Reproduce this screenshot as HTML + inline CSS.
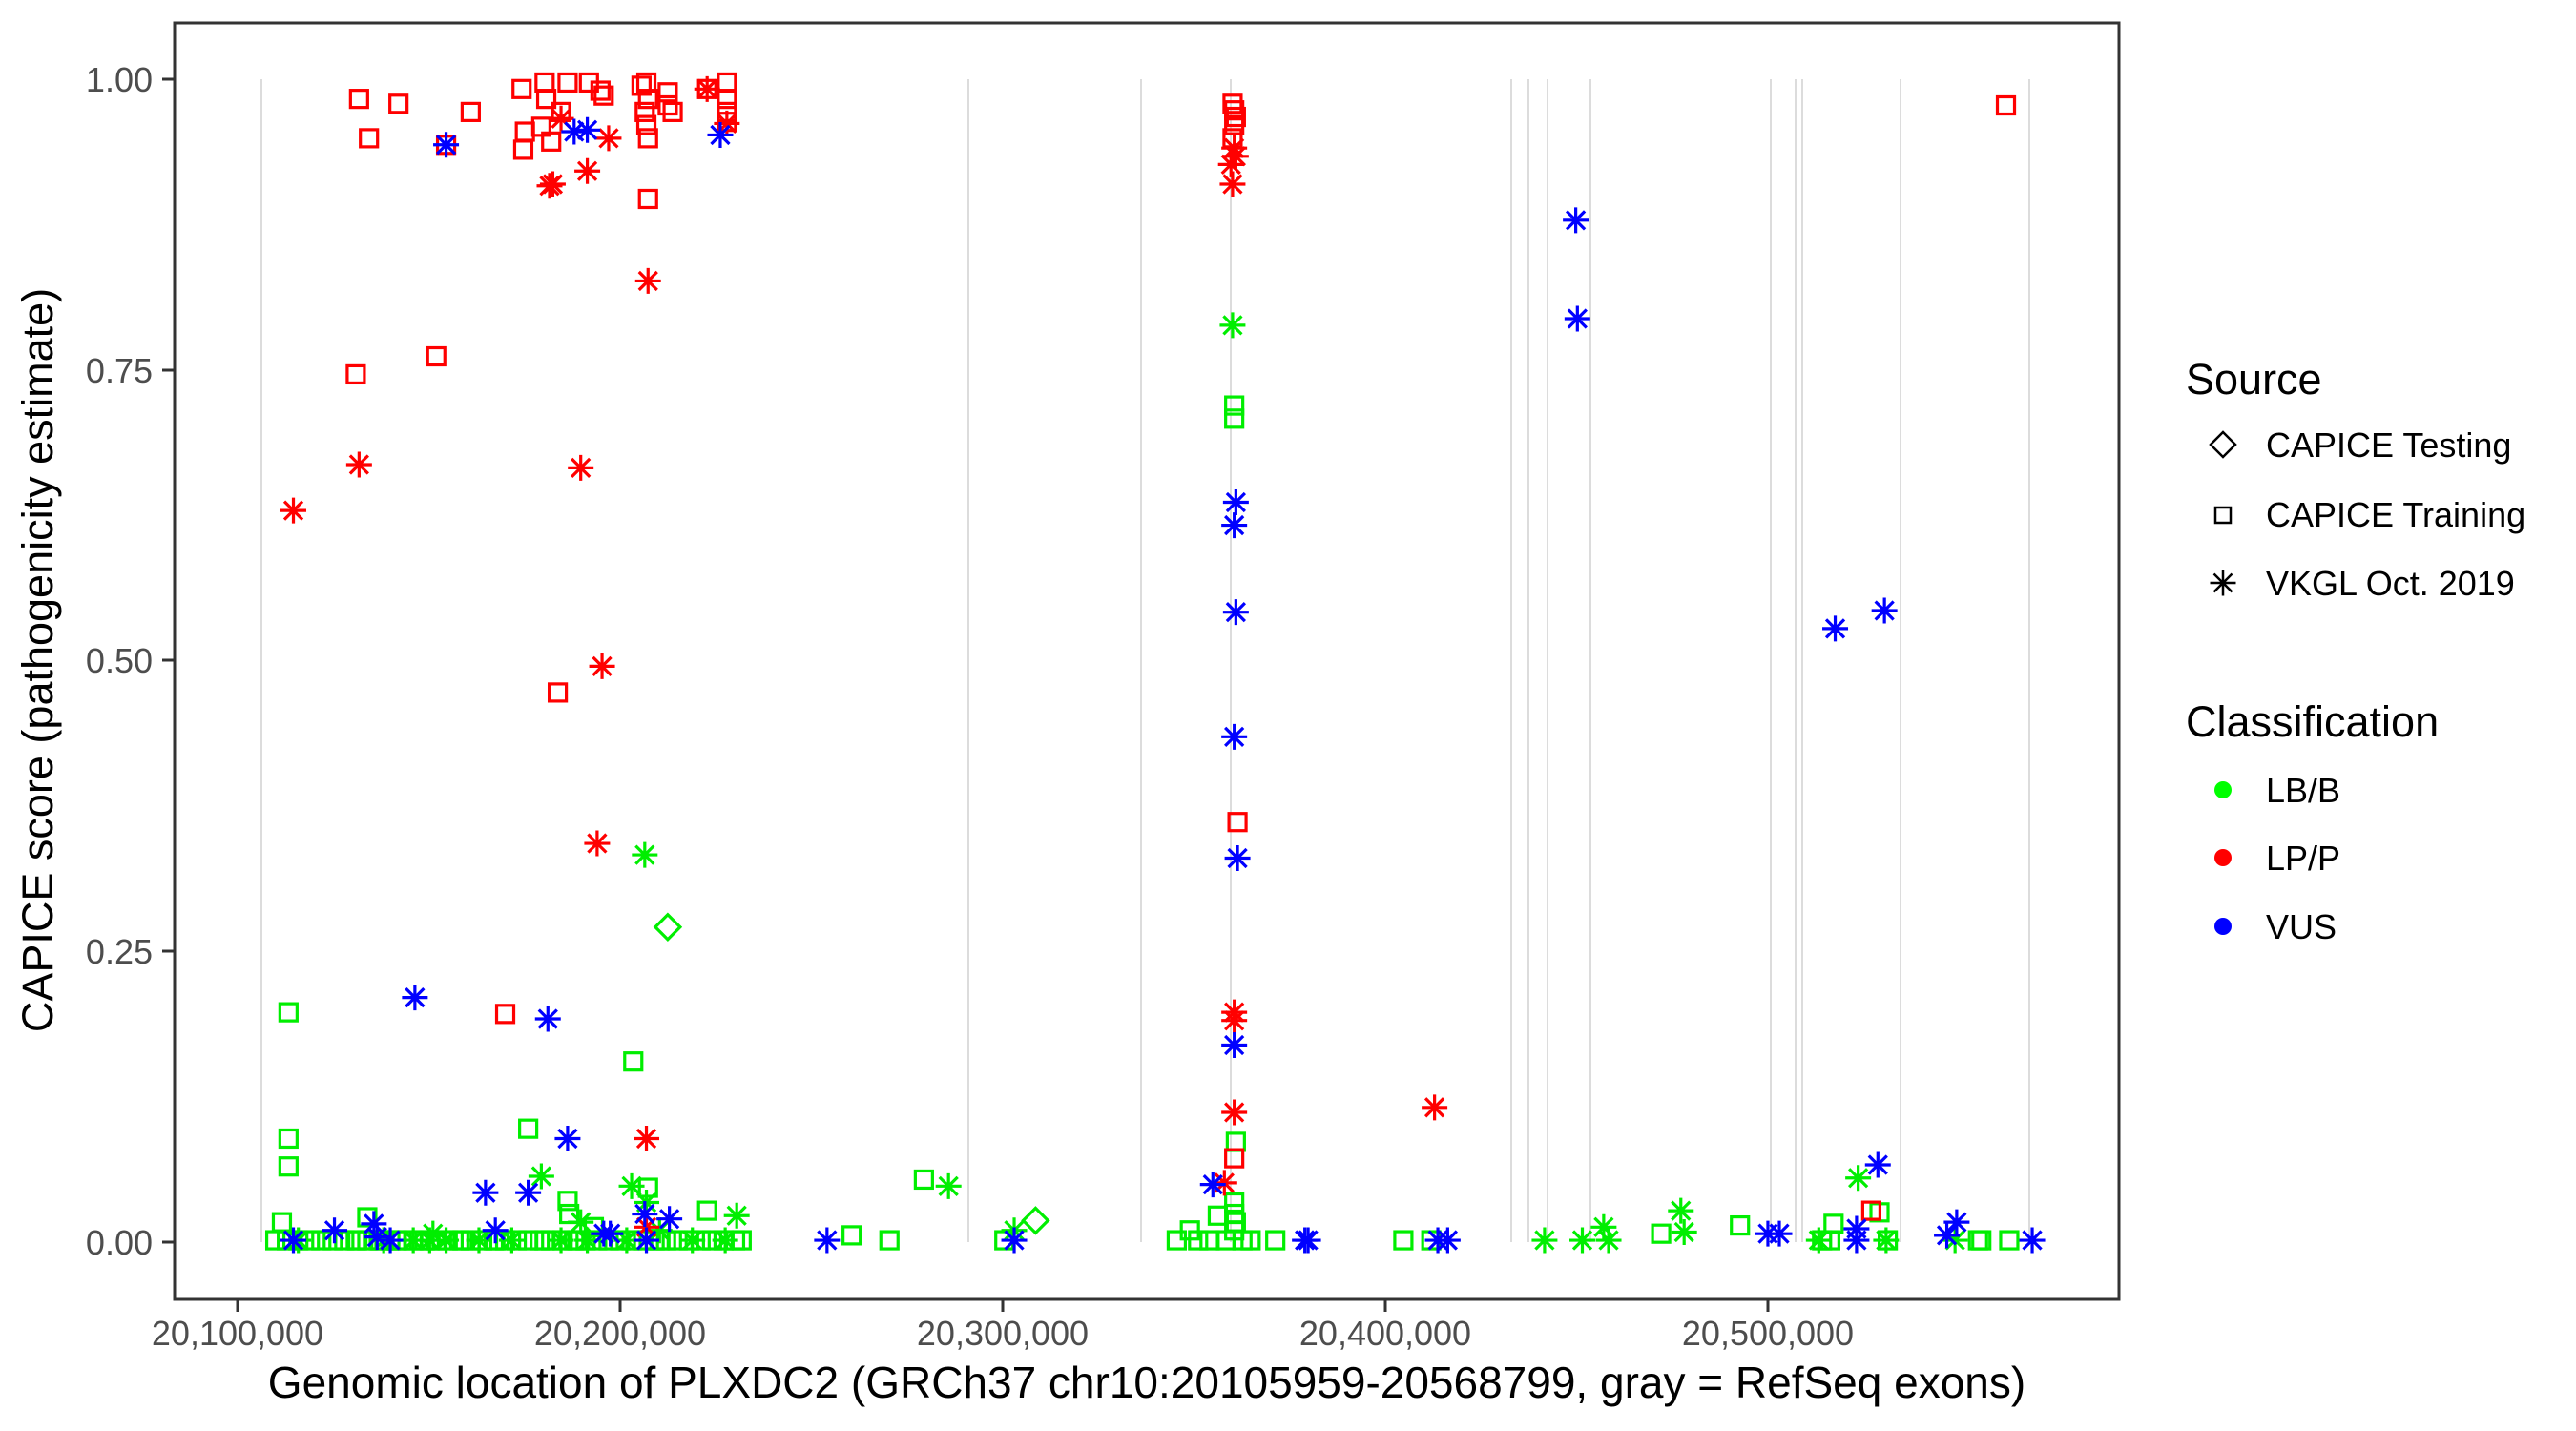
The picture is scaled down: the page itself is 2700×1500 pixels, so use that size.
<!DOCTYPE html>
<html><head><meta charset="utf-8">
<style>
html,body{margin:0;padding:0;background:#fff;}
svg{display:block;font-family:"Liberation Sans",Arial,sans-serif;}
</style></head>
<body>
<svg id="s" width="2700" height="1500" viewBox="0 0 2700 1500" xmlns="http://www.w3.org/2000/svg">
<rect width="2700" height="1500" fill="#fff"/>
<g id="ex" stroke="#d0d0d0" stroke-width="1.5"></g>
<g id="pts" fill="none" stroke-width="3.2"></g>
<rect x="183" y="24" width="2038" height="1338" fill="none" stroke="#333" stroke-width="3"/>
<g stroke="#333" stroke-width="3">
<line x1="170" y1="83" x2="183" y2="83"/><line x1="170" y1="388" x2="183" y2="388"/><line x1="170" y1="692" x2="183" y2="692"/><line x1="170" y1="997" x2="183" y2="997"/><line x1="170" y1="1302" x2="183" y2="1302"/>
<line x1="249" y1="1362" x2="249" y2="1375"/><line x1="650" y1="1362" x2="650" y2="1375"/><line x1="1051" y1="1362" x2="1051" y2="1375"/><line x1="1452" y1="1362" x2="1452" y2="1375"/><line x1="1853" y1="1362" x2="1853" y2="1375"/>
</g>
<g fill="#4d4d4d" font-size="36" text-anchor="end">
<text x="160" y="96">1.00</text><text x="160" y="401">0.75</text><text x="160" y="705">0.50</text><text x="160" y="1010">0.25</text><text x="160" y="1315">0.00</text>
</g>
<g fill="#4d4d4d" font-size="36" text-anchor="middle">
<text x="249" y="1410">20,100,000</text><text x="650" y="1410">20,200,000</text><text x="1051" y="1410">20,300,000</text><text x="1452" y="1410">20,400,000</text><text x="1853" y="1410">20,500,000</text>
</g>
<text x="1202" y="1465" font-size="46" text-anchor="middle" fill="#000">Genomic location of PLXDC2 (GRCh37 chr10:20105959-20568799, gray = RefSeq exons)</text>
<text transform="translate(55,692) rotate(-90)" font-size="45" text-anchor="middle" fill="#000">CAPICE score (pathogenicity estimate)</text>
<text x="2291" y="413" font-size="45" fill="#000">Source</text>
<text x="2375" y="479" font-size="36" fill="#000">CAPICE Testing</text>
<text x="2375" y="552" font-size="36" fill="#000">CAPICE Training</text>
<text x="2375" y="624" font-size="36" fill="#000">VKGL Oct. 2019</text>
<text x="2291" y="772" font-size="45" fill="#000">Classification</text>
<text x="2375" y="841" font-size="36" fill="#000">LB/B</text>
<text x="2375" y="912" font-size="36" fill="#000">LP/P</text>
<text x="2375" y="984" font-size="36" fill="#000">VUS</text>
<circle cx="2330" cy="828" r="9" fill="#00ff00"/>
<circle cx="2330" cy="899" r="9" fill="#ff0000"/>
<circle cx="2330" cy="971" r="9" fill="#0000ff"/>
<g id="leg" fill="none" stroke="#000" stroke-width="2.5"></g>
</svg>
<script>
var NS="http://www.w3.org/2000/svg";
function X(xd){return 249+(xd-143)*1.721;}
function Y(yd){return 83+(yd-48)*1.719;}
function el(p,t,a){var e=document.createElementNS(NS,t);for(var k in a)e.setAttribute(k,a[k]);p.appendChild(e);return e;}
var ex=document.getElementById('ex');
[274,1015,1196,1290,1584,1602,1622,1667,1856,1882,1889,1992,2127].forEach(function(x){el(ex,'line',{x1:x,y1:83,x2:x,y2:1302});});
var g=document.getElementById('pts');
function sq(p,x,y,c){el(p,'rect',{x:x-9,y:y-9,width:18,height:18,stroke:c});}
function st(p,x,y,c){var r=13.5,d=9.5;el(p,'path',{d:'M'+x+' '+(y-r)+'V'+(y+r)+'M'+(x-r)+' '+y+'H'+(x+r)+'M'+(x-d)+' '+(y-d)+'L'+(x+d)+' '+(y+d)+'M'+(x-d)+' '+(y+d)+'L'+(x+d)+' '+(y-d),stroke:c});}
function di(p,x,y,c){var r=13;el(p,'path',{d:'M'+x+' '+(y-r)+'L'+(x+r)+' '+y+'L'+x+' '+(y+r)+'L'+(x-r)+' '+y+'Z',stroke:c});}
var G='#00ee00',R='#ff0000',B='#0000ff';
function add(list,f,c){list.forEach(function(p){f(g,X(p[0]),Y(p[1]),c);});}
var gs=[[174,617],[174,694],[174,711],[170,745],[216,756],[222,742],[260,756],[230,756],[300,756],[320,688],[344,732],[345,740],[384,647],[393,724],[360,748],[330,756],[350,756],[400,756],[429,738],[450,756],[517,753],[540,756],[561,719],[750,247],[750,255],[751,696],[750,740],[750,750],[740,741],[723,750],[715,756],[760,756],[775,756],[853,756],[870,756],[1010,752],[1058,747],[1115,746],[1143,739],[1148,756],[1203,756],[1222,756],[1108,756],[610,756],[240,756],[280,756],[750,733],[751,745],[745,756],[755,756],[735,756],[728,756],[1205,756],[1113,756]];
for(var i=166;i<=452;i+=7){gs.push([i,756]);}
add(gs,sq,G);
var ga=[[749,198],[391,521],[328,717],[383,723],[392,733],[352,745],[447,741],[576,723],[290,756],[310,756],[340,756],[420,756],[440,756],[616,750],[939,756],[962,756],[975,748],[978,756],[1022,738],[1024,751],[1130,718],[1106,756],[1147,756],[1189,756],[180,756],[260,756],[270,756],[232,756],[356,756],[380,756],[250,756],[262,752],[400,750]];
add(ga,st,G);
add([[405,565],[629,744]],di,G);
var rs=[[217,60],[223,84],[241,63],[285,68],[316,54],[318,80],[317,91],[328,77],[330,50],[331,60],[334,86],[340,68],[344,50],[357,50],[364,55],[366,58],[389,52],[392,50],[393,60],[391,68],[392,76],[405,64],[408,68],[405,56],[429,54],[441,50],[441,60],[441,68],[441,74],[393,84],[393,121],[215,228],[264,217],[338,422],[306,618],[1220,64],[749,63],[750,67],[751,71],[750,76],[749,84],[752,501],[750,706],[1138,738],[270,88]];
add(rs,sq,R);
var ra=[[177,311],[217,283],[352,285],[365,406],[362,514],[393,171],[356,104],[369,84],[335,112],[333,113],[340,72],[392,694],[392,748],[429,54],[441,75],[750,90],[749,112],[751,95],[748,100],[750,617],[750,622],[750,678],[744,721],[872,675]];
add(ra,st,R);
var ba=[[270,88],[348,80],[356,79],[437,82],[251,608],[332,621],[344,694],[294,727],[320,727],[300,750],[226,746],[228,754],[177,756],[202,750],[236,756],[366,752],[370,752],[391,740],[406,743],[751,306],[750,320],[751,373],[750,449],[752,523],[750,637],[737,722],[793,756],[795,756],[874,756],[880,756],[958,134],[959,194],[1116,383],[1146,372],[1142,710],[1075,752],[1082,752],[1129,749],[1129,756],[1190,745],[1184,753],[1236,756],[502,756],[616,756],[392,756]];
add(ba,st,B);
var lg=document.getElementById('leg');
di(lg,2330,466,'#000');
el(lg,'rect',{x:2322,y:532,width:16,height:16,stroke:'#000'});
st(lg,2330,611,'#000');
</script>
</body></html>
